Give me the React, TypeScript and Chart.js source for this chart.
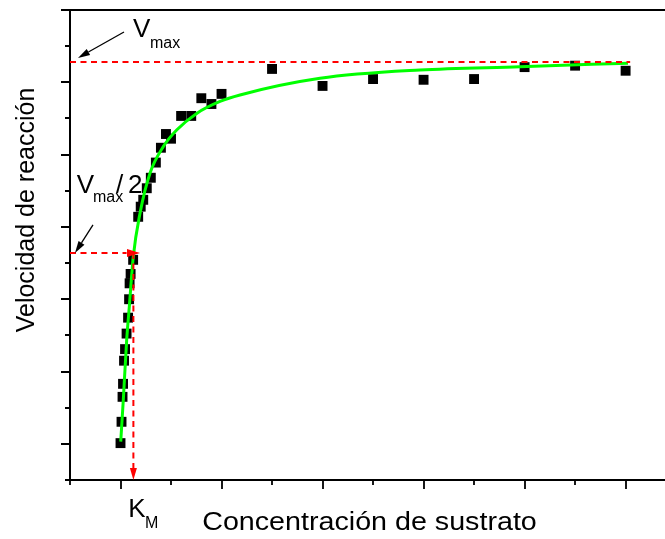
import React, { useEffect, useRef } from "react";
import { Chart, registerables } from "chart.js";

Chart.register(...registerables);

// ---- data ----
const xTicks = [0, 1, 2, 3, 4, 5, 6, 7, 8, 9, 10, 11];
const xMajor = [1, 3, 5, 7, 9, 11];
const yTicks = [0, 1, 2, 3, 4, 5, 6, 7, 8, 9, 10, 11, 12, 13];
const yMajor = [1, 3, 5, 7, 9, 11, 13];

const substrate = [
  1.0, 1.02, 1.04, 1.05, 1.07, 1.09, 1.12, 1.15, 1.17, 1.18, 1.2, 1.25, 1.35, 1.4, 1.45, 1.52, 1.6,
  1.7, 1.8, 1.9, 2.0, 2.2, 2.4, 2.6, 2.8, 3.0, 4, 5, 6, 7, 8, 9, 10, 11,
];
const velocity = [
  1.02, 1.61, 2.3, 2.66, 3.3, 3.62, 4.05, 4.49, 5.0, 5.44, 5.7, 6.09, 7.28, 7.56, 7.75, 8.07, 8.36,
  8.78, 9.19, 9.57, 9.44, 10.07, 10.07, 10.56, 10.4, 10.68, 11.37, 10.9, 11.09, 11.07, 11.09, 11.42,
  11.46, 11.32,
];

const fitX = [1.004, 1.055, 1.122, 1.174, 1.253, 1.386, 1.582, 1.847, 2.112, 2.508, 2.97, 3.366, 4.95, 6.929, 8.909, 11.047];
const fitY = [1.06, 2.21, 3.87, 4.79, 6.18, 7.38, 8.48, 9.22, 9.68, 10.14, 10.47, 10.65, 11.11, 11.34, 11.43, 11.53];

const vmax = 11.56;
const vmaxEnd = 11.09;
const vmaxHalf = 6.28;
const km = 1.255;
const halfArrowTip = 1.386;
const halfLineEnd = 1.12;
const kmLineEnd = 0.33;

// annotation anchors (data units)
const vmaxArrow = [1.069, 12.393, 0.158, 11.674];
const halfArrow = [0.455, 7.054, 0.099, 6.279];

const FONT = '"Liberation Sans", Arial, Helvetica, sans-serif';

export default function App() {
  const ref = useRef<HTMLCanvasElement>(null);

  useEffect(() => {
    const canvas = ref.current;
    if (!canvas) return;

    const decor = {
      id: "decor",
      beforeDatasetsDraw(chart: any) {
        const ctx = chart.ctx;
        const { left, right, top, bottom } = chart.chartArea;
        const xs = chart.scales.x;
        const ys = chart.scales.y;
        ctx.save();
        ctx.strokeStyle = "#000";
        ctx.lineWidth = 2;
        ctx.beginPath();
        ctx.moveTo(left, top);
        ctx.lineTo(right, top);
        ctx.moveTo(left, top - 1);
        ctx.lineTo(left, bottom + 1);
        ctx.moveTo(left - 1, bottom);
        ctx.lineTo(right, bottom);
        ctx.stroke();
        ctx.lineWidth = 1.8;
        ctx.beginPath();
        xTicks.forEach((v) => {
          const px = Math.round(xs.getPixelForValue(v));
          const len = xMajor.includes(v) ? 9 : 5;
          ctx.moveTo(px, bottom);
          ctx.lineTo(px, bottom + len);
        });
        yTicks.forEach((v) => {
          const py = Math.round(ys.getPixelForValue(v));
          const len = yMajor.includes(v) ? 9 : 5;
          ctx.moveTo(left, py);
          ctx.lineTo(left - len, py);
        });
        ctx.stroke();
        ctx.restore();
      },
      afterDatasetsDraw(chart: any) {
        const ctx = chart.ctx;
        const { left, right, bottom } = chart.chartArea;
        const xs = chart.scales.x;
        const ys = chart.scales.y;
        const X = (v: number) => xs.getPixelForValue(v);
        const Y = (v: number) => ys.getPixelForValue(v);
        ctx.save();

        // red arrowheads
        ctx.fillStyle = "#ff0000";
        const tx = X(halfArrowTip);
        const ty = Y(vmaxHalf);
        ctx.beginPath();
        ctx.moveTo(tx, ty);
        ctx.lineTo(tx - 13, ty - 4);
        ctx.lineTo(tx - 13, ty + 4);
        ctx.closePath();
        ctx.fill();
        const dx = X(km);
        const dy = Y(0);
        ctx.beginPath();
        ctx.moveTo(dx, dy);
        ctx.lineTo(dx - 3.5, dy - 12);
        ctx.lineTo(dx + 3.5, dy - 12);
        ctx.closePath();
        ctx.fill();

        // black arrows
        const arrow = (a: number[]) => {
          const x1 = X(a[0]), y1 = Y(a[1]), x2 = X(a[2]), y2 = Y(a[3]);
          const ang = Math.atan2(y2 - y1, x2 - x1);
          const hl = 12, hw = 3.5;
          const bx = x2 - hl * Math.cos(ang), by = y2 - hl * Math.sin(ang);
          ctx.strokeStyle = "#000";
          ctx.lineWidth = 1.3;
          ctx.beginPath();
          ctx.moveTo(x1, y1);
          ctx.lineTo(bx, by);
          ctx.stroke();
          ctx.fillStyle = "#000";
          ctx.beginPath();
          ctx.moveTo(x2, y2);
          ctx.lineTo(bx + hw * Math.sin(ang), by - hw * Math.cos(ang));
          ctx.lineTo(bx - hw * Math.sin(ang), by + hw * Math.cos(ang));
          ctx.closePath();
          ctx.fill();
        };
        arrow(vmaxArrow);
        arrow(halfArrow);

        // annotation text
        ctx.fillStyle = "#000";
        ctx.textBaseline = "alphabetic";
        ctx.textAlign = "left";
        const txt = (s: string, x: number, y: number, size: number) => {
          ctx.font = `${size}px ${FONT}`;
          ctx.fillText(s, X(x), Y(y));
        };
        txt("V", 1.247, 12.255, 26);
        txt("max", 1.584, 11.95, 16);
        txt("V", 0.133, 7.931, 26);
        txt("max", 0.455, 7.69, 16);
        txt("/", 0.911, 7.931, 26);
        txt("2", 1.148, 7.931, 26);
        txt("K", 1.154, -1.015, 26);
        txt("M", 1.485, -1.336, 16);

        // axis titles
        ctx.font = `25.6px ${FONT}`;
        ctx.textAlign = "center";
        ctx.save();
        ctx.translate((left + right) / 2 + 2, bottom + 50);
        ctx.scale(1.12, 1);
        ctx.fillText("Concentración de sustrato", 0, 0);
        ctx.restore();

        ctx.font = `25px ${FONT}`;
        ctx.save();
        ctx.translate(34, 210);
        ctx.rotate(-Math.PI / 2);
        ctx.scale(1, 1.06);
        ctx.fillText("Velocidad de reacción", 0, 0);
        ctx.restore();

        ctx.restore();
      },
    };

    const chart = new Chart(canvas, {
      type: "scatter",
      data: {
        datasets: [
          {
            label: "Vmax",
            data: [
              { x: 0, y: vmax },
              { x: vmaxEnd, y: vmax },
            ],
            showLine: true,
            borderColor: "#ff0000",
            borderWidth: 2,
            borderDash: [6, 4.5],
            pointRadius: 0,
            clip: false,
          },
          {
            label: "Vmax/2",
            data: [
              { x: 0, y: vmaxHalf },
              { x: halfLineEnd, y: vmaxHalf },
            ],
            showLine: true,
            borderColor: "#ff0000",
            borderWidth: 2,
            borderDash: [6, 4.5],
            pointRadius: 0,
            clip: false,
          },
          {
            label: "KM",
            data: [
              { x: km, y: vmaxHalf },
              { x: km, y: kmLineEnd },
            ],
            showLine: true,
            borderColor: "#ff0000",
            borderWidth: 2,
            borderDash: [6, 4.5],
            pointRadius: 0,
            clip: false,
          },
          {
            label: "Ajuste",
            data: fitX.map((x, i) => ({ x, y: fitY[i] })),
            showLine: true,
            borderColor: "#00ff00",
            borderWidth: 3,
            cubicInterpolationMode: "monotone",
            pointRadius: 0,
            clip: false,
          },
          {
            label: "Datos",
            data: substrate.map((x, i) => ({ x, y: velocity[i] })),
            showLine: false,
            pointStyle: "rect",
            pointRadius: 7,
            pointHoverRadius: 7,
            backgroundColor: "#000",
            borderColor: "#000",
            borderWidth: 0,
            clip: false,
          },
        ],
      },
      options: {
        responsive: false,
        animation: false,
        devicePixelRatio: 1,
        layout: { autoPadding: false, padding: { left: 70, top: 10, right: 0, bottom: 59 } },
        scales: {
          x: { type: "linear", display: false, min: 0, max: 11.78 },
          y: { type: "linear", display: false, min: 0, max: 13 },
        },
        plugins: {
          legend: { display: false },
          tooltip: { enabled: false },
        },
      },
      plugins: [decor],
    } as any);

    return () => chart.destroy();
  }, []);

  return (
    <div style={{ position: "absolute", left: 0, top: 0, width: 665, height: 539, background: "#fff" }}>
      <canvas ref={ref} width={665} height={539} style={{ display: "block", width: 665, height: 539 }} />
    </div>
  );
}
